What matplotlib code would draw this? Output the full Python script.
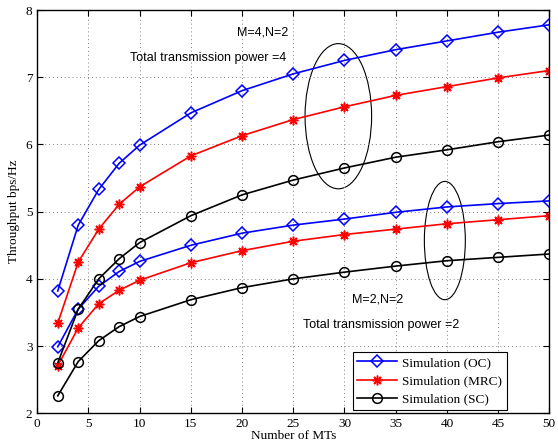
import matplotlib

matplotlib.use("Agg")
import matplotlib.pyplot as plt
from matplotlib.patches import Ellipse

# Number of mobile terminals
MTS = [2, 4, 6, 8, 10, 15, 20, 25, 30, 35, 40, 45, 50]

# M=4, N=2, total power 4
OC_4 = [3.82, 4.80, 5.33, 5.72, 5.99, 6.47, 6.80, 7.05, 7.25, 7.41, 7.54, 7.67, 7.78]
MRC_4 = [3.34, 4.25, 4.74, 5.11, 5.37, 5.83, 6.13, 6.37, 6.56, 6.73, 6.86, 6.99, 7.10]
SC_4 = [2.75, 3.55, 4.00, 4.30, 4.54, 4.94, 5.25, 5.47, 5.65, 5.81, 5.92, 6.04, 6.14]

# M=2, N=2, total power 2
OC_2 = [2.99, 3.55, 3.89, 4.11, 4.26, 4.50, 4.68, 4.80, 4.89, 4.99, 5.07, 5.12, 5.16]
MRC_2 = [2.71, 3.27, 3.63, 3.83, 3.98, 4.24, 4.42, 4.56, 4.66, 4.74, 4.82, 4.88, 4.94]
SC_2 = [2.26, 2.77, 3.08, 3.29, 3.44, 3.69, 3.87, 4.00, 4.10, 4.19, 4.27, 4.32, 4.37]

LABELS = ["Simulation (OC)", "Simulation (MRC)", "Simulation (SC)"]
# matlab-like asterisk: 8 spokes
STYLES = [("b", "D", 6), ("r", (8, 2, 0), 7), ("k", "o", 7)]

SERIF = ["Liberation Serif", "DejaVu Serif"]
SANS = ["Liberation Sans", "DejaVu Sans"]

fig = plt.figure(figsize=(5.58, 4.47), dpi=100)
ax = fig.add_axes([0.0668, 0.0754, 0.9176, 0.9022])

handles = []
for ys4, ys2, (c, m, ms), lab in zip([OC_4, MRC_4, SC_4], [OC_2, MRC_2, SC_2], STYLES, LABELS):
    h, = ax.plot(MTS, ys4, color=c, marker=m, ms=ms, mfc="none", mec=c, mew=1.1, lw=1.2, label=lab)
    ax.plot(MTS, ys2, color=c, marker=m, ms=ms, mfc="none", mec=c, mew=1.1, lw=1.2)
    handles.append(h)

# group ellipses
ax.add_patch(Ellipse((29.4, 6.42), 6.5, 2.16, fill=False, ec="k", lw=0.8))
ax.add_patch(Ellipse((39.8, 4.57), 4.0, 1.76, fill=False, ec="k", lw=0.8))

ax.text(19.5, 7.66, "M=4,N=2", family=SANS, fontsize=9, va="center")
ax.text(9.05, 7.29, "Total transmission power =4", family=SANS, fontsize=9, va="center")
ax.text(30.7, 3.69, "M=2,N=2", family=SANS, fontsize=9, va="center")
ax.text(25.9, 3.31, "Total transmission power =2", family=SANS, fontsize=9, va="center")

ax.set_xlim(0, 50)
ax.set_ylim(2, 8)
ax.set_xticks(range(0, 51, 5))
ax.set_yticks(range(2, 9))
ax.tick_params(direction="in", top=True, right=True, length=4, labelsize=9.5)
for t in ax.get_xticklabels() + ax.get_yticklabels():
    t.set_family(SERIF)
for s in ax.spines.values():
    s.set_linewidth(1.0)
ax.grid(True, linestyle=(0, (1, 3)), color="0.5", lw=0.7)

ax.set_xlabel("Number of MTs", family=SERIF, fontsize=9.5, labelpad=0)
ax.set_ylabel("Throughput bps/Hz", family=SERIF, fontsize=9.5, labelpad=4)

leg = ax.legend(handles=handles, loc="lower right", bbox_to_anchor=(0.917, 0.008),
                borderaxespad=0, fancybox=False, framealpha=1, edgecolor="k",
                prop={"family": SERIF, "size": 9.5}, handlelength=3,
                labelspacing=0.45, borderpad=0.35, handletextpad=0.4)
leg.get_frame().set_linewidth(0.8)

fig.savefig("out.png", dpi=100)
